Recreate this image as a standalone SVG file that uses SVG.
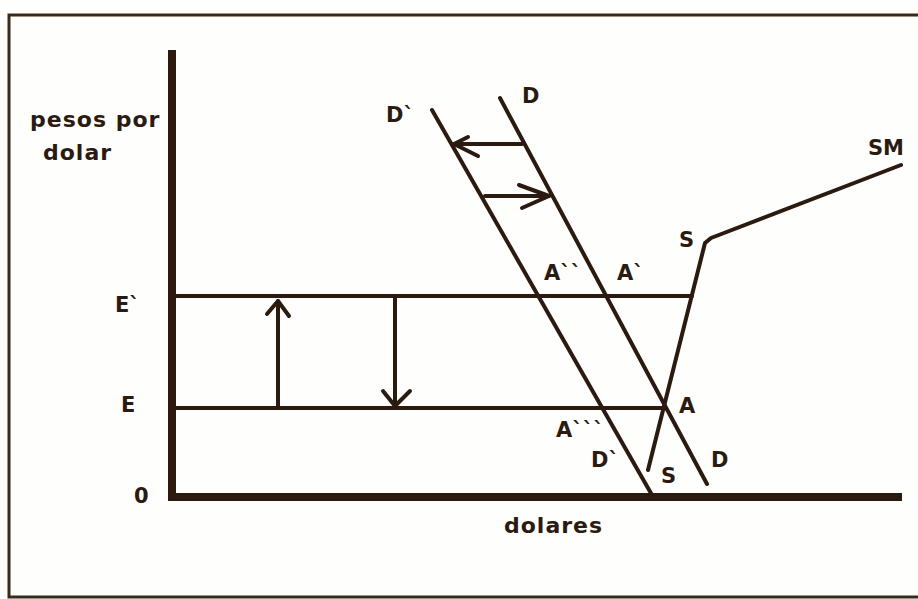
<svg xmlns="http://www.w3.org/2000/svg" width="918" height="599" viewBox="0 0 918 599">
<style>
.ln{stroke:#2b1a10;stroke-width:4;fill:none;stroke-linecap:round;stroke-linejoin:round}
.ax{stroke:#2b1a10;stroke-width:8;fill:none}
.fr{stroke:#3a2a1a;stroke-width:3;fill:none}
text{font-family:"DejaVu Sans","Liberation Sans",sans-serif;font-size:21px;font-weight:bold;fill:#2b1a10}
.w{font-size:22px;letter-spacing:1px}
</style>
<rect x="0" y="0" width="918" height="599" fill="#fefefc"/>
<g id="frame">
<polyline class="fr" points="918,15 9,15 9,597 918,597"/>
</g>
<g id="axes">
<line class="ax" x1="172" y1="50" x2="172" y2="501"/>
<line class="ax" x1="168" y1="497" x2="902" y2="497"/>
</g>
<g id="connectors">
<line class="ln" x1="172" y1="296" x2="692" y2="296"/>
<line class="ln" x1="172" y1="408" x2="664" y2="408"/>
<line class="ln" x1="500" y1="98" x2="707" y2="484"/>
<line class="ln" x1="432" y1="110" x2="652" y2="495"/>
<polyline class="ln" points="648,470 705,243 711,238 901,165"/>
<line class="ln" x1="278" y1="408" x2="278" y2="301"/>
<polyline class="ln" points="267,314 278,301 289,316"/>
<line class="ln" x1="395" y1="296" x2="395" y2="406"/>
<polyline class="ln" points="383,391 395,406 410,391"/>
<line class="ln" x1="522" y1="144" x2="454" y2="144"/>
<polyline class="ln" points="468,137 454,144 478,156"/>
<line class="ln" x1="485" y1="196" x2="549" y2="196"/>
<polyline class="ln" points="519,185 549,196 522,208"/>
</g>
<g id="labels">
<text class="w" x="30" y="127">pesos por</text>
<text class="w" x="43" y="160">dolar</text>
<text x="115" y="312">E`</text>
<text x="121" y="412">E</text>
<text x="134" y="503">0</text>
<text class="w" x="504" y="533">dolares</text>
<text x="386" y="122">D`</text>
<text x="522" y="103">D</text>
<text x="868" y="155">SM</text>
<text x="679" y="247">S</text>
<text x="544" y="280">A``</text>
<text x="617" y="280">A`</text>
<text x="679" y="413">A</text>
<text x="556" y="437">A```</text>
<text x="591" y="467">D`</text>
<text x="661" y="483">S</text>
<text x="711" y="467">D</text>
</g>
</svg>
